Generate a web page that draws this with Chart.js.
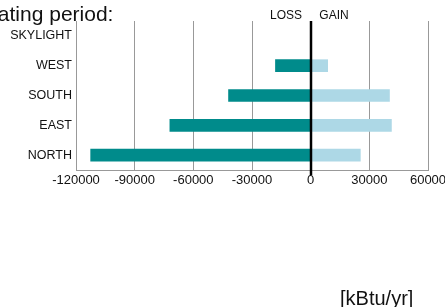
<!DOCTYPE html>
<html>
<head>
<meta charset="utf-8">
<script src="https://cdn.jsdelivr.net/npm/chart.js@4/dist/chart.umd.min.js"></script>
<style>
  html, body { margin: 0; padding: 0; background: #fff; }
  #wrap { width: 445px; height: 307px; position: relative; }
</style>
</head>
<body>
<div id="wrap"><canvas id="c" width="445" height="307"></canvas></div>
<script>
// categories top to bottom
const surfaces = ["SKYLIGHT", "WEST", "SOUTH", "EAST", "NORTH"];
// heat loss / gain during heating period [kBtu/yr]
const loss = [0, -18000, -42000, -72000, -112500];
const gain = [0, 8700, 40300, 41300, 25400];
const xTicks = [-120000, -90000, -60000, -30000, 0, 30000, 60000];

const teal = "#008b8b";
const lightBlue = "#add8e6";

// extra texts + the zero line drawn over the bars
const textPlugin = {
    id: "texts",
    afterDatasetsDraw(chart) {
        const ctx = chart.ctx;
        const x0 = Math.round(chart.scales.x.getPixelForValue(0));
        ctx.save();
        ctx.strokeStyle = "#000";
        ctx.lineWidth = 2.5;
        ctx.beginPath();
        ctx.moveTo(x0, chart.chartArea.top);
        ctx.lineTo(x0, chart.chartArea.bottom + 5);
        ctx.stroke();
        ctx.restore();
    },
    afterDraw(chart) {
        const ctx = chart.ctx;
        ctx.save();
        ctx.fillStyle = "#111";
        ctx.textBaseline = "alphabetic";
        ctx.font = "21px 'Liberation Sans', Arial, sans-serif";
        ctx.textAlign = "left";
        ctx.fillText("Heating period:", -29, 21);
        ctx.font = "12px 'Liberation Sans', Arial, sans-serif";
        ctx.textAlign = "center";
        ctx.fillText("LOSS", 286, 19);
        ctx.fillText("GAIN", 334, 19);
        ctx.font = "20px 'Liberation Sans', Arial, sans-serif";
        ctx.textAlign = "left";
        ctx.fillText("[kBtu/yr]", 340, 305);
        ctx.restore();
    }
};

new Chart(document.getElementById("c"), {
    type: "bar",
    data: {
        labels: surfaces,
        datasets: [
            { label: "Loss", data: loss, backgroundColor: teal, barThickness: 12 },
            { label: "Gain", data: gain, backgroundColor: lightBlue, barThickness: 12 }
        ]
    },
    options: {
        indexAxis: "y",
        responsive: false,
        animation: false,
        layout: { padding: { left: 0, top: 21, right: 17, bottom: 0 } },
        plugins: { legend: { display: false }, tooltip: { enabled: false } },
        scales: {
            x: {
                stacked: true,
                min: -120000,
                max: 60000,
                afterBuildTicks(scale) {
                    scale.ticks = xTicks.map(v => ({ value: v }));
                },
                afterFit(scale) {
                    scale.height = 137;
                    scale.paddingLeft = 0;
                    scale.paddingRight = 0;
                },
                grid: {
                    color: ctx => ctx.tick && ctx.tick.value === 0 ? "rgba(0,0,0,0)" : "#999",
                    drawTicks: false
                },
                border: { display: true, color: "#999" },
                ticks: {
                    padding: 3,
                    color: "#111",
                    font: { family: "'Liberation Sans', Arial, sans-serif", size: 13 },
                    maxRotation: 0,
                    autoSkip: false,
                    callback: v => String(v)
                }
            },
            y: {
                stacked: true,
                afterFit(scale) { scale.width = 76; },
                grid: { display: false, drawTicks: false },
                border: { display: true, color: "#999" },
                ticks: {
                    padding: 4,
                    color: "#111",
                    font: { family: "'Liberation Sans', Arial, sans-serif", size: 12.5 }
                }
            }
        }
    },
    plugins: [textPlugin]
});
</script>
</body>
</html>
